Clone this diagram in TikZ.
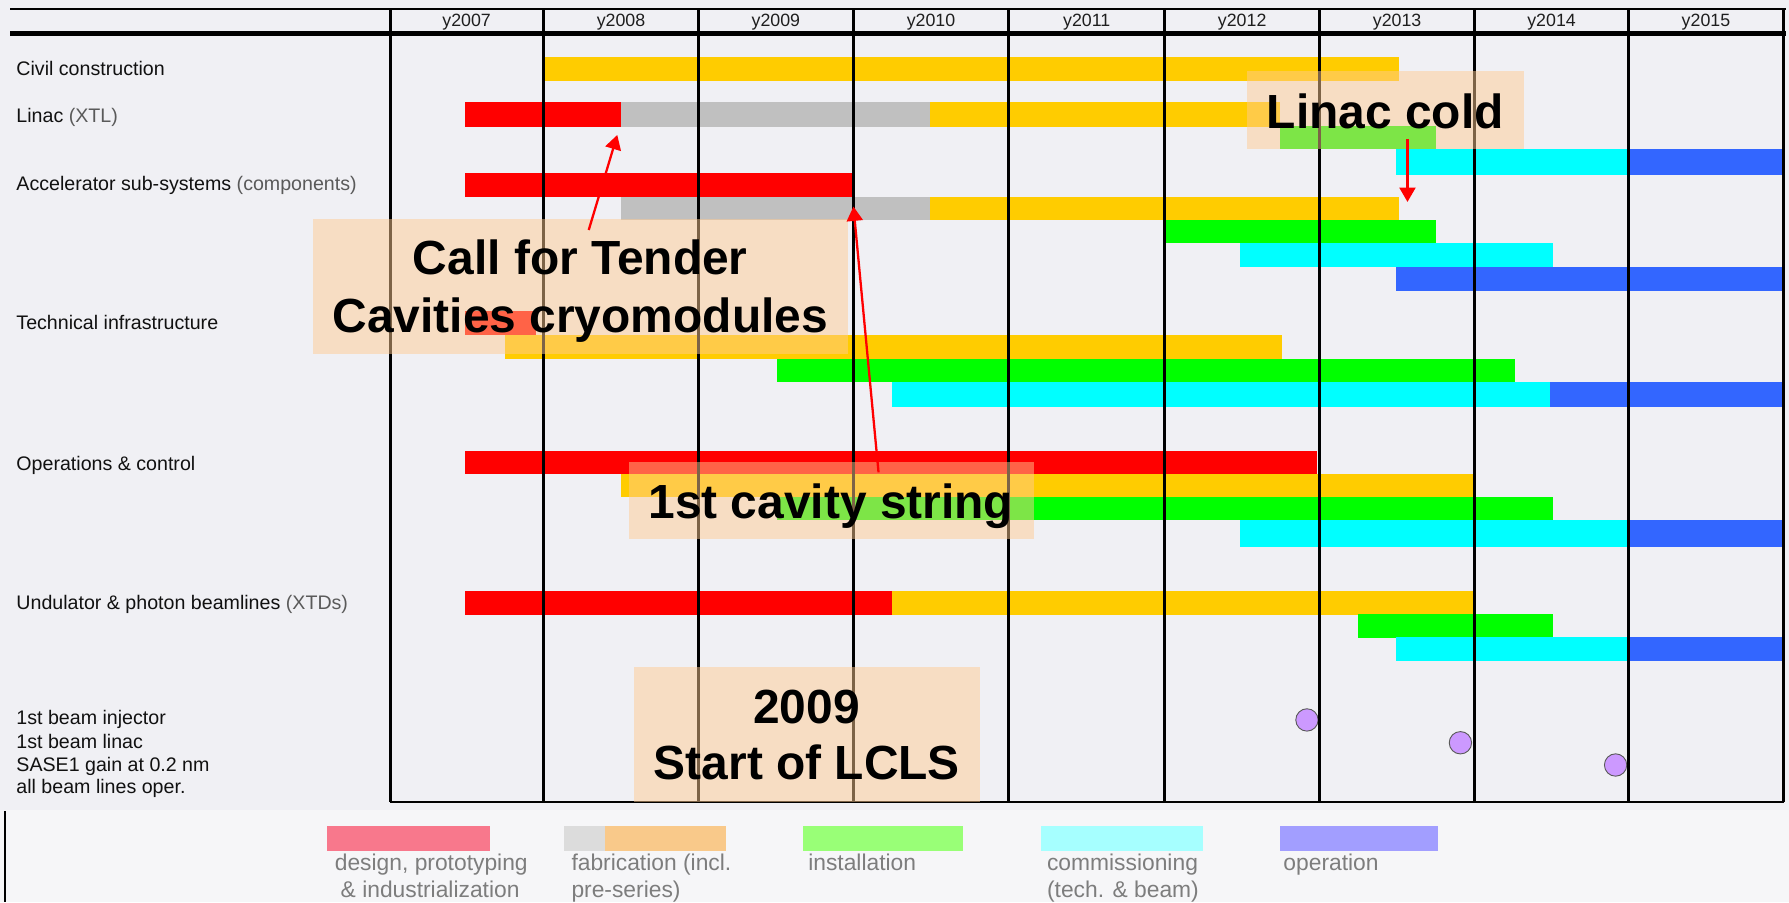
\documentclass[tikz,border=0pt]{standalone}
\usepackage{fontspec}
\setmainfont{Liberation Sans}
\usetikzlibrary{arrows.meta}
\definecolor{bgA}{RGB}{240,240,244}
\definecolor{bgB}{RGB}{246,246,248}
\definecolor{cR}{RGB}{255,0,0}
\definecolor{cG}{RGB}{192,192,192}
\definecolor{cY}{RGB}{255,204,0}
\definecolor{cGr}{RGB}{0,255,0}
\definecolor{cC}{RGB}{0,255,255}
\definecolor{cB}{RGB}{51,102,255}
\definecolor{boxc}{RGB}{255,202,145}
\definecolor{lblc}{RGB}{17,17,17}
\definecolor{parc}{RGB}{90,90,90}
\definecolor{hdrc}{RGB}{30,30,30}
\definecolor{legc}{RGB}{125,125,125}
\definecolor{lgPink}{RGB}{248,120,140}
\definecolor{lgGray}{RGB}{220,220,220}
\definecolor{lgOrange}{RGB}{249,201,138}
\definecolor{lgGreen}{RGB}{153,255,119}
\definecolor{lgCyan}{RGB}{166,255,255}
\definecolor{lgLav}{RGB}{162,158,255}
\definecolor{mileC}{RGB}{204,153,255}
\newcommand{\gbar}[5]{\fill[#1] (#2,#4) rectangle (#3,#5);}
\begin{document}
\begin{tikzpicture}[x=0.5pt,y=-0.5pt,
  lbl/.style={anchor=base west, inner sep=0pt, font=\fontsize{8.6}{10}\selectfont, text=lblc},
  hdr/.style={anchor=base, inner sep=0pt, font=\fontsize{7.8}{9}\selectfont, text=hdrc},
  big/.style={anchor=base, inner sep=0pt, font=\fontsize{21}{25}\selectfont\bfseries, text=black},
  annbox/.style={fill=boxc, fill opacity=0.49, inner sep=0pt, draw=none},
  leg/.style={anchor=base west, inner sep=0pt, font=\fontsize{10}{12}\selectfont, text=legc},
  vline/.style={line width=1.3pt, black},
  redarrow/.style={draw=cR, line width=1pt, -{Triangle[width=7pt,length=6.3pt]}},
  milestone/.style={circle, fill=mileC, draw=black!65, line width=0.4pt, minimum size=9.8pt, inner sep=0pt}
]
\useasboundingbox (0,0) rectangle (1568,791);
\fill[bgA] (0,0) rectangle (1568,710);
\fill[bgB] (0,710) rectangle (1568,791);

% Civil construction
\gbar{cY}{478}{1225.8}{49.7}{71}
% Linac
\gbar{cR}{407.5}{544}{89.7}{111}
\gbar{cG}{544}{815}{89.7}{111}
\gbar{cY}{815}{1122}{89.7}{111}
\gbar{cGr}{1122.2}{1259}{110.5}{131}
\gbar{cC}{1223.6}{1426}{131}{153}
\gbar{cB}{1426}{1563}{131}{153}
% Accelerator sub-systems
\gbar{cR}{407.5}{747.5}{152}{172.4}
\gbar{cG}{544}{815}{172.4}{193}
\gbar{cY}{815}{1225.8}{172.4}{193}
\gbar{cGr}{1021}{1259}{193}{213.4}
\gbar{cC}{1087}{1361}{213.4}{234}
\gbar{cB}{1223.5}{1563}{234}{255}
% Technical infrastructure
\gbar{cR}{407.5}{470}{272.5}{293.5}
\gbar{cY}{443}{1124}{293.5}{314.5}
\gbar{cGr}{680.6}{1328}{314.5}{335}
\gbar{cC}{782}{1358.5}{335}{356.4}
\gbar{cB}{1358.5}{1563}{335}{356.4}
% Operations & control
\gbar{cR}{407.5}{1154}{395}{415.5}
\gbar{cY}{544}{1291}{415.5}{436}
\gbar{cGr}{680.7}{1361}{436}{456}
\gbar{cC}{1087}{1427}{456}{479}
\gbar{cB}{1427}{1563}{456}{479}
% Undulator
\gbar{cR}{407.5}{781.5}{518}{539}
\gbar{cY}{781.5}{1291}{518}{539}
\gbar{cGr}{1190}{1361}{538.5}{559}
\gbar{cC}{1223.5}{1427}{558.5}{579}
\gbar{cB}{1427}{1563}{558.5}{579}

% milestones
\node[milestone] (m1) at (1145.5,631) {};
\node[milestone] (m2) at (1280,651) {};
\node[milestone] (m3) at (1416,670.5) {};

% grid
\draw[line width=0.9pt] (9,7.9) -- (1565,7.9);
\draw[line width=2pt] (9,29.4) -- (1565,29.4);
\foreach \x in {342,476.6,612,748,884,1021,1156.5,1292.4,1427.4,1563}
  \draw[vline] (\x,7.9) -- (\x,703);
\draw[line width=0.7pt] (342,703) -- (1563.6,703);
\draw[line width=1pt] (4.4,711) -- (4.4,791);

% header
\foreach \x/\t [count=\i] in {409/y2007,544.3/y2008,680/y2009,816/y2010,952.5/y2011,1088.7/y2012,1224.5/y2013,1359.9/y2014,1495.2/y2015}
  \node[hdr] (hdr\i) at (\x,23) {\t};

% row labels
\node[lbl] (lcivil) at (14,66.6) {Civil construction};
\node[lbl] (llinac) at (14,107.2) {Linac \textcolor{parc}{(XTL)}};
\node[lbl] (lacc) at (14,167.1) {Accelerator sub-systems \textcolor{parc}{(components)}};
\node[lbl] (ltech) at (14,289.2) {Technical infrastructure};
\node[lbl] (lops) at (14,412) {Operations \& control};
\node[lbl] (lund) at (14,534.6) {Undulator \& photon beamlines \textcolor{parc}{(XTDs)}};
\node[lbl] (lm1) at (14,635.4) {1st beam injector};
\node[lbl] (lm2) at (14,655.8) {1st beam linac};
\node[lbl] (lm3) at (14,676.2) {SASE1 gain at 0.2 nm};
\node[lbl] (lm4) at (14,695.2) {all beam lines oper.};

% legend
\fill[lgPink] (287,723.6) rectangle (429.6,745.8);
\fill[lgGray] (494.3,723.6) rectangle (530.3,745.8);
\fill[lgOrange] (530.3,723.6) rectangle (636,745.8);
\fill[lgGreen] (703.4,723.6) rectangle (844.3,745.8);
\fill[lgCyan] (912.3,723.6) rectangle (1054.2,745.8);
\fill[lgLav] (1122,723.6) rectangle (1260,745.8);
\node[leg, anchor=base] (t1a) at (378,763) {design, prototyping};
\node[leg, anchor=base] (t1b) at (377,786.4) {\& industrialization};
\node[leg] (t2a) at (500.5,763) {fabrication (incl.};
\node[leg] (t2b) at (500.5,786.4) {pre-series)};
\node[leg] (t3) at (708,763) {installation};
\node[leg] (t4a) at (917.3,763) {commissioning};
\node[leg] (t4b) at (917.3,786.4) {(tech. \& beam)};
\node[leg] (t5) at (1124.5,763) {operation};

% annotation boxes
\node[annbox, minimum width=234.2pt, minimum height=59pt] (cftbox) at (508.9,251) {};
\node[annbox, minimum width=121.5pt, minimum height=34.3pt] (lcbox) at (1214.5,96.3) {};
\node[annbox, minimum width=177.5pt, minimum height=33.75pt] (csbox) at (728.5,438.75) {};
\node[annbox, minimum width=151.65pt, minimum height=59pt] (lclsbox) at (707.35,643.6) {};

\node[big] (cft1) at (508.6,241) {Call for Tender};
\node[big] (cft2) at (508.6,291.6) {Cavities cryomodules};
\node[big] (lct) at (1214.2,112.5) {Linac cold};
\node[big] (cst) at (728.2,454.3) {1st cavity string};
\node[big] (lcls1) at (707,633.8) {2009};
\node[big] (lcls2) at (707.2,683.6) {Start of LCLS};

% arrows
\coordinate (a1s) at (516,201.6);
\coordinate (a1e) at (541,118.3);
\coordinate (a2s) at (770,414);
\coordinate (a2e) at (748,181);
\coordinate (a3s) at (1233.6,122);
\coordinate (a3e) at (1233.6,177);
\draw[redarrow] (a1s) -- (a1e);
\draw[redarrow] (a2s) -- (a2e);
\draw[redarrow] (a3s) -- (a3e);
\end{tikzpicture}
\end{document}
